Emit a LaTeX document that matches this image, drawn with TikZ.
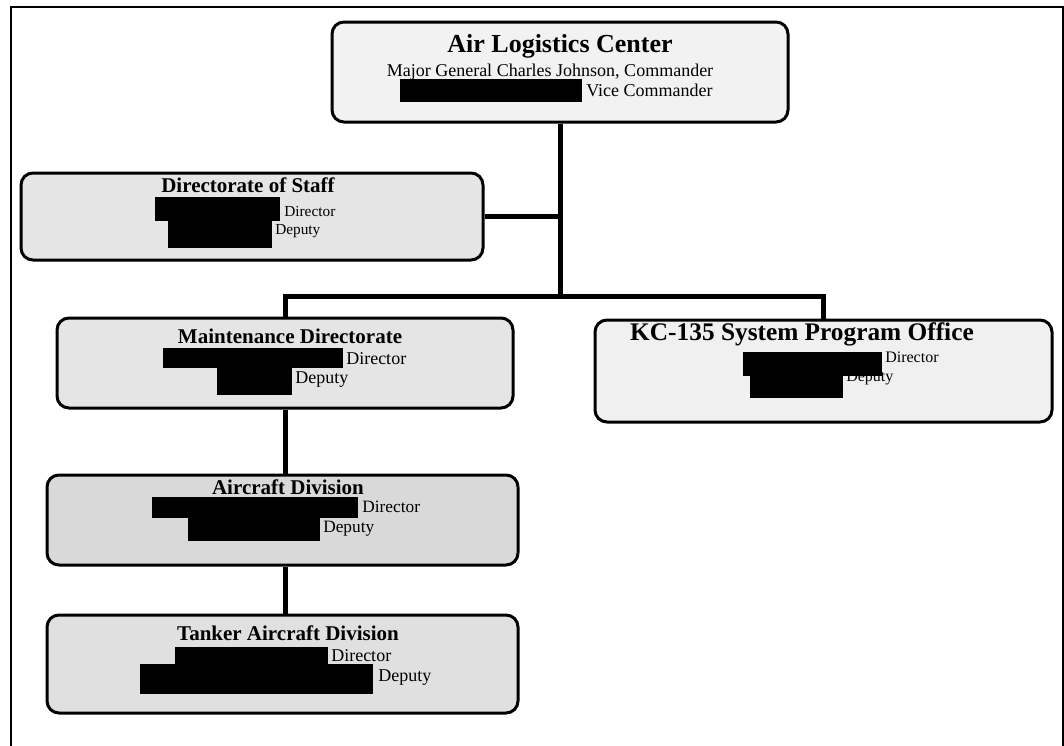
\documentclass[tikz,border=0pt]{standalone}
\usepackage{fontspec}
\setmainfont{Liberation Serif}
\usetikzlibrary{fit}
\begin{document}
\begin{tikzpicture}[x=0.75pt,y=-0.75pt,
  orgbox/.style={draw=black, line width=2.25pt, rounded corners=9pt, inner sep=0pt},
  conn/.style={line width=3.75pt, line join=miter},
  redact/.style={fill=black, draw=none},
  ttl/.style={font=\bfseries\fontsize{15.75}{18}\selectfont, inner sep=0pt},
  body/.style={font=\fontsize{12}{14}\selectfont, inner sep=0pt, anchor=west},
]
\useasboundingbox (0,0) rectangle (1064,746);
\draw[line width=1.5pt] (11,760) -- (11,7) -- (1063,7) -- (1063,760);

% boxes
\node[orgbox, fill=gray!10, fit={(332,22) (788,122)}] (top) {};
\node[orgbox, fill=gray!20, fit={(21,173) (483,260)}] (staff) {};
\node[orgbox, fill=gray!20, fit={(57,318) (513,408)}] (maint) {};
\node[orgbox, fill=gray!12, fit={(595,320) (1052,422)}] (kc) {};
\node[orgbox, fill=gray!30, fit={(47,475) (518,565)}] (air) {};
\node[orgbox, fill=gray!24, fit={(47,615) (518,713)}] (tank) {};

% connectors
\coordinate (bus) at (560,296);
\draw[conn] (top.south) -- (bus);
\draw[conn] (staff.east) -- (staff.east -| top.south);
\draw[conn] (maint.north) |- (bus) -| (kc.north);
\draw[conn] (maint.south) -- (maint.south |- air.north);
\draw[conn] (maint.south |- air.south) -- (maint.south |- tank.north);

% top box text
\node[ttl, font=\bfseries\fontsize{19.5}{22}\selectfont] (t1) at (560,46) {Air Logistics Center};
\node[inner sep=0pt, font=\fontsize{13.5}{16}\selectfont] (t2) at (550,72) {Major General Charles Johnson, Commander};
\fill[redact] (400,79) rectangle (582,102);
\node[body, font=\fontsize{13.5}{16}\selectfont] (t3) at (586,90) {Vice Commander};

% staff
\node[ttl] (s1) at (248,185) {Directorate of Staff};
\fill[redact] (155,197) rectangle (280,221);
\fill[redact] (168,221) rectangle (272,248);
\node[body, font=\fontsize{11.5}{14}\selectfont] (s2) at (284,211) {Director};
\node[body, font=\fontsize{11.5}{14}\selectfont] (s3) at (275,231) {Deputy};

% maintenance
\node[ttl] (m1) at (290,336) {Maintenance Directorate};
\fill[redact] (163,348) rectangle (343,368);
\fill[redact] (217,368) rectangle (292,395);
\node[body, font=\fontsize{13.5}{16}\selectfont] (m2) at (346,359) {Director};
\node[body, font=\fontsize{13.5}{16}\selectfont] (m3) at (295,380) {Deputy};

% KC-135
\node[ttl, font=\bfseries\fontsize{19}{22}\selectfont] (k1) at (802,334) {KC-135 System Program Office};
\fill[redact] (743,352) rectangle (882,376);
\fill[redact] (750,376) rectangle (843,398);
\node[body] (k2) at (885,357) {Director};
\node[body] (k3) at (846,378) {Deputy};

% aircraft division
\node[ttl] (a1) at (288,487) {Aircraft Division};
\fill[redact] (152,497) rectangle (358,518);
\fill[redact] (188,518) rectangle (320,541);
\node[body, font=\fontsize{13}{15}\selectfont] (a2) at (362,507) {Director};
\node[body, font=\fontsize{13}{15}\selectfont] (a3) at (323,529) {Deputy};

% tanker aircraft division
\node[ttl] (d1) at (288,633) {Tanker Aircraft Division};
\fill[redact] (175,647) rectangle (328,664);
\fill[redact] (140,664) rectangle (373,694);
\node[body, font=\fontsize{13.5}{16}\selectfont] (d2) at (331,656) {Director};
\node[body, font=\fontsize{13.5}{16}\selectfont] (d3) at (378,678) {Deputy};
\end{tikzpicture}
\end{document}
